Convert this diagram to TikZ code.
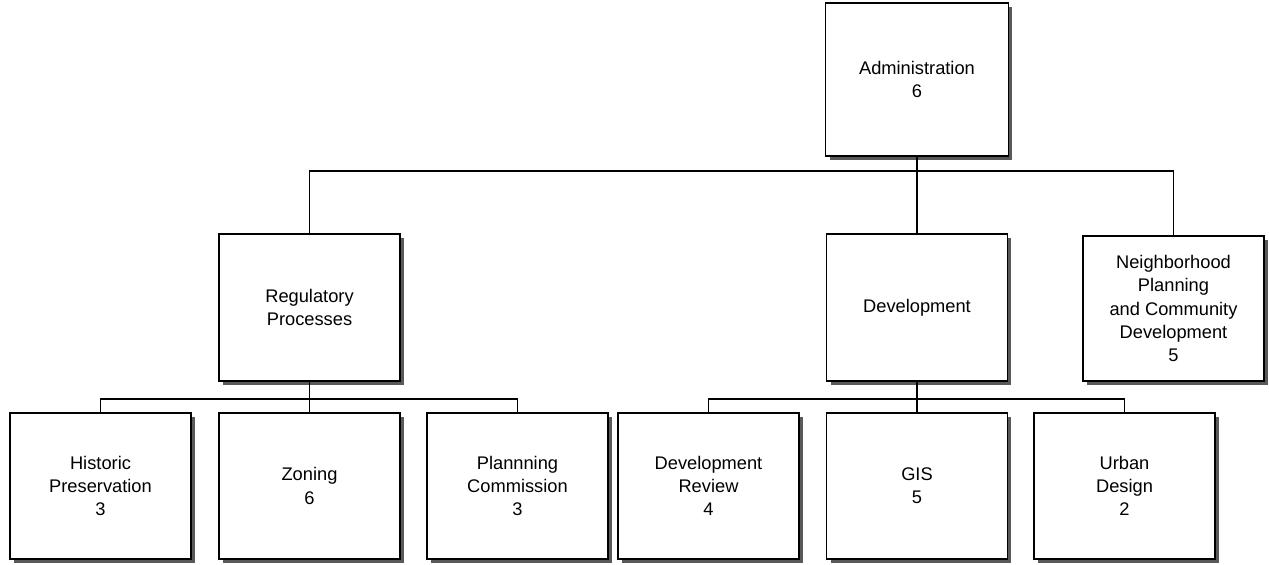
\documentclass[tikz,border=0pt]{standalone}
\usepackage{fontspec}
\setmainfont{Liberation Sans}
\usetikzlibrary{shadows}

\begin{document}
\begin{tikzpicture}[x=0.02cm, y=-0.02cm,
    unitbox/.style={rectangle, draw=black, line width=0.9pt, fill=white,
          minimum width=3.62cm, minimum height=2.92cm, align=center,
          inner sep=2pt, font=\fontsize{10.4}{13.2}\selectfont,
          drop shadow={shadow xshift=0.08cm, shadow yshift=-0.08cm,
                       fill=black!65, opacity=1}},
    link/.style={line width=0.9pt, black}]

    % Frame
    \useasboundingbox (0,0) rectangle (1269,565);

    % Top
    \node[unitbox, minimum width=3.66cm, minimum height=3.06cm]
          (admin) at (917,79.5) {Administration\\6};

    % Divisions
    \node[unitbox, minimum height=2.94cm] (reg) at (309.5,307.5) {Regulatory\\Processes};
    \node[unitbox, minimum height=2.94cm] (dev) at (917,307.5) {Development};
    \node[unitbox, minimum height=2.90cm] (nbhd) at (1173.5,308.5) {
        Neighborhood\\
        Planning\\
        and Community\\
        Development\\
        5
    };

    % Sections
    \node[unitbox] (hist) at (100.5,486) {Historic\\Preservation\\3};
    \node[unitbox] (zon) at (309.5,486) {Zoning\\6};
    \node[unitbox] (plan) at (517.5,486) {Plannning\\Commission\\3};
    \node[unitbox] (rev) at (708.5,486) {Development\\Review\\4};
    \node[unitbox] (gis) at (917,486) {GIS\\5};
    \node[unitbox] (urb) at (1124.5,486) {Urban\\Design\\2};

    % Lines from the top
    \path (admin.south) ++(0,14) coordinate (topbus);
    \draw[link] (admin.south) -- (topbus) -| (reg.north);
    \draw[link] (topbus) -- (dev.north);
    \draw[link] (topbus) -| (nbhd.north);

    % Lines from Regulatory Processes
    \path (reg.south) ++(0,17) coordinate (regbus);
    \draw[link] (reg.south) -- (regbus) -| (hist.north);
    \draw[link] (regbus) -- (zon.north);
    \draw[link] (regbus) -| (plan.north);

    % Lines from Development
    \path (dev.south) ++(0,17) coordinate (devbus);
    \draw[link] (dev.south) -- (devbus) -| (rev.north);
    \draw[link] (devbus) -- (gis.north);
    \draw[link] (devbus) -| (urb.north);

\end{tikzpicture}
\end{document}
